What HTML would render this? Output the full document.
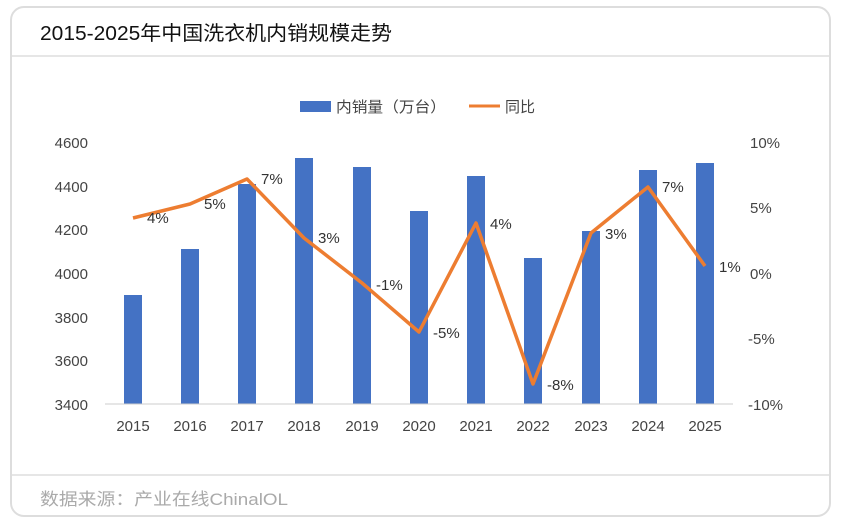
<!DOCTYPE html>
<html><head><meta charset="utf-8"><style>
body{margin:0;width:841px;height:525px;background:#fff;overflow:hidden;font-family:"Liberation Sans","Noto Sans CJK SC",sans-serif;}
.card{position:absolute;left:10px;top:6px;width:821px;height:511px;border:2px solid #ddd;border-radius:14px;box-sizing:border-box;}
</style></head><body>
<div class="card"></div>
<svg width="841" height="525" style="position:absolute;left:0;top:0" font-family="Liberation Sans, Noto Sans CJK SC, sans-serif">
<text x="40" y="40" font-size="20" fill="#111" textLength="352" lengthAdjust="spacingAndGlyphs">2015-2025年中国洗衣机内销规模走势</text>
<line x1="11" y1="56" x2="830" y2="56" stroke="#ddd" stroke-width="1.5"/>
<line x1="11" y1="475" x2="830" y2="475" stroke="#ddd" stroke-width="1.5"/>
<text x="40" y="505" font-size="17" fill="#aaa" textLength="248" lengthAdjust="spacingAndGlyphs">数据来源：产业在线ChinalOL</text>
<rect x="300" y="101" width="31" height="11" fill="#4472c4"/>
<text x="336" y="112" font-size="15" fill="#444" textLength="110" lengthAdjust="spacingAndGlyphs">内销量（万台）</text>
<line x1="469" y1="106" x2="500" y2="106" stroke="#ed7d31" stroke-width="3"/>
<text x="505" y="112" font-size="15" fill="#444">同比</text>
<g font-size="15" fill="#444" text-anchor="end">
<text x="88" y="148">4600</text><text x="88" y="192">4400</text><text x="88" y="235">4200</text><text x="88" y="279">4000</text><text x="88" y="323">3800</text><text x="88" y="366">3600</text><text x="88" y="410">3400</text>
</g>
<g font-size="15" fill="#444">
<text x="750" y="148">10%</text><text x="750" y="213">5%</text><text x="750" y="279">0%</text><text x="748" y="344">-5%</text><text x="748" y="410">-10%</text>
</g>
<g fill="#4472c4">
<rect x="124" y="295" width="18" height="109"/>
<rect x="181" y="249" width="18" height="155"/>
<rect x="238" y="184" width="18" height="220"/>
<rect x="295" y="158" width="18" height="246"/>
<rect x="353" y="167" width="18" height="237"/>
<rect x="410" y="211" width="18" height="193"/>
<rect x="467" y="176" width="18" height="228"/>
<rect x="524" y="258" width="18" height="146"/>
<rect x="582" y="231" width="18" height="173"/>
<rect x="639" y="170" width="18" height="234"/>
<rect x="696" y="163" width="18" height="241"/>
</g>
<line x1="105" y1="404" x2="733" y2="404" stroke="#ccc" stroke-width="1"/>
<g font-size="15" fill="#444" text-anchor="middle">
<text x="133" y="431">2015</text><text x="190" y="431">2016</text><text x="247" y="431">2017</text><text x="304" y="431">2018</text><text x="362" y="431">2019</text><text x="419" y="431">2020</text><text x="476" y="431">2021</text><text x="533" y="431">2022</text><text x="591" y="431">2023</text><text x="648" y="431">2024</text><text x="705" y="431">2025</text>
</g>
<polyline fill="none" stroke="#ed7d31" stroke-width="3.5" stroke-linejoin="round" points="133,218 190,204 247,179 304,238 362,283 419,332 476,223 533,384 591,233 648,187 705,266"/>
<g font-size="15" fill="#333">
<text x="147" y="223">4%</text><text x="204" y="209">5%</text><text x="261" y="184">7%</text><text x="318" y="243">3%</text><text x="376" y="290">-1%</text><text x="433" y="338">-5%</text><text x="490" y="229">4%</text><text x="547" y="390">-8%</text><text x="605" y="239">3%</text><text x="662" y="192">7%</text><text x="719" y="272">1%</text>
</g>
</svg>
</body></html>
